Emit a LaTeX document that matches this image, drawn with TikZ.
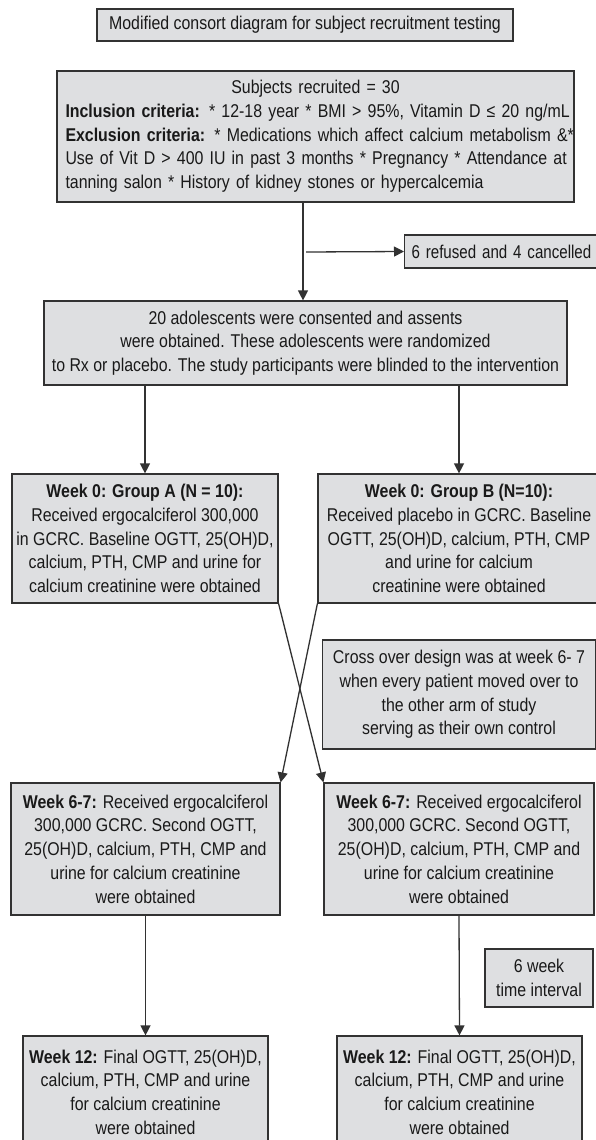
\documentclass[tikz,border=0pt]{standalone}
\usepackage{fontspec}
\setmainfont{Liberation Sans}[FakeStretch=0.86]
\usetikzlibrary{arrows.meta}
\definecolor{boxfill}{RGB}{222,223,225}
\definecolor{boxline}{RGB}{50,50,50}
\definecolor{txt}{RGB}{25,25,25}
\begin{document}
\begin{tikzpicture}[x=1pt,y=-1pt,
  box/.style={draw=boxline, line width=1.2pt, fill=boxfill, text=txt, inner sep=0pt, align=center,
    font=\fontsize{18.5}{23.7}\selectfont},
  arr/.style={draw=boxline, line width=1.3pt, -{Triangle[length=10pt,width=10pt]}}]
\useasboundingbox (0,0) rectangle (596,1140);
\fill[white] (0,0) rectangle (596,1140);

\node[box, minimum width=416pt, minimum height=32pt] (title) at (305,25)
  {Modified consort diagram for subject recruitment testing};

\node[box, minimum width=517pt, minimum height=131pt, text width=500pt, align=left] (rec) at (315.5,136.5)
  {\makebox[500pt][c]{Subjects recruited = 30}\\
   \mbox{\textbf{Inclusion criteria:} * 12-18 year * BMI > 95\%, Vitamin D ≤ 20 ng/mL}\\
   \mbox{\textbf{Exclusion criteria:} * Medications which affect calcium metabolism \&*}\\
   \mbox{Use of Vit D > 400 IU in past 3 months * Pregnancy * Attendance at}\\
   \mbox{tanning salon * History of kidney stones or hypercalcemia}};

\node[box, minimum height=33pt, text width=189pt, align=left, inner xsep=7pt, anchor=west] (ref) at (404,251.5)
  {\scalebox{0.95}[1]{6 refused and 4 cancelled}};

\node[box, minimum width=523pt, minimum height=84pt] (cons) at (305.5,343)
  {20 adolescents were consented and assents\\
   were obtained. These adolescents were randomized\\
   to Rx or placebo. The study participants were blinded to the intervention};

\node[box, minimum width=266pt, minimum height=129pt] (ga) at (145,538.5)
  {\textbf{Week 0: Group A (N = 10):}\\
   Received ergocalciferol 300,000\\
   in GCRC. Baseline OGTT, 25(OH)D,\\
   calcium, PTH, CMP and urine for\\
   calcium creatinine were obtained};

\node[box, minimum width=282pt, minimum height=129pt] (gb) at (459,538.5)
  {\textbf{Week 0: Group B (N=10):}\\
   Received placebo in GCRC. Baseline\\
   OGTT, 25(OH)D, calcium, PTH, CMP\\
   and urine for calcium\\
   creatinine were obtained};

\node[box, minimum width=273pt, minimum height=109pt] (cross) at (459,694.5)
  {Cross over design was at week 6- 7\\
   when every patient moved over to\\
   the other arm of study\\
   serving as their own control};

\node[box, minimum width=269pt, minimum height=132pt] (la) at (145.5,849)
  {\textbf{Week 6-7:} Received ergocalciferol\\
   300,000 GCRC. Second OGTT,\\
   25(OH)D, calcium, PTH, CMP and\\
   urine for calcium creatinine\\
   were obtained};

\node[box, minimum width=270pt, minimum height=132pt] (rb) at (459,849)
  {\textbf{Week 6-7:} Received ergocalciferol\\
   300,000 GCRC. Second OGTT,\\
   25(OH)D, calcium, PTH, CMP and\\
   urine for calcium creatinine\\
   were obtained};

\node[box, minimum width=108pt, minimum height=58pt] (six) at (539,978)
  {6 week\\ time interval};

\node[box, minimum width=245pt, minimum height=112pt] (lf) at (145.5,1092)
  {\textbf{Week 12:} Final OGTT, 25(OH)D,\\
   calcium, PTH, CMP and urine\\
   for calcium creatinine\\
   were obtained};

\node[box, minimum width=245pt, minimum height=112pt] (rf) at (459.5,1092)
  {\textbf{Week 12:} Final OGTT, 25(OH)D,\\
   calcium, PTH, CMP and urine\\
   for calcium creatinine\\
   were obtained};

\coordinate (c1) at (303,252);
\coordinate (c2) at (306,252);
\draw[arr] (rec.south -| c1) -- (cons.north -| c1);
\draw[arr] (c2) -- (ref.west);
\draw[arr] (cons.south -| ga.north) -- (ga.north);
\draw[arr] (cons.south -| gb.north) -- (gb.north);
\draw[arr] (ga.south east) -- (rb.north west);
\draw[arr] (gb.south west) -- (la.north east);
\draw[arr] (la.south) -- (lf.north);
\draw[arr] (rb.south) -- (rf.north);
\end{tikzpicture}
\end{document}
